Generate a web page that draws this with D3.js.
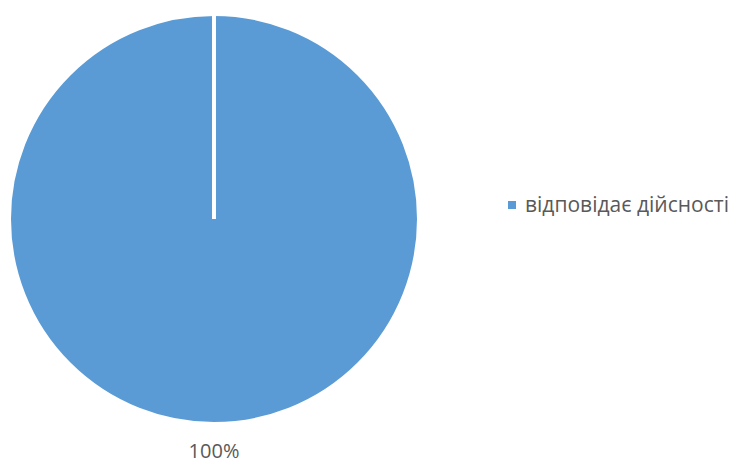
<!DOCTYPE html>
<html>
<head>
<meta charset="utf-8">
<script src="https://cdn.jsdelivr.net/npm/d3@7"></script>
<style>
  body { margin: 0; background: #fff; }
  svg { display: block; }
  text { font-family: "Open Sans", sans-serif; fill: #595959; }
</style>
</head>
<body>
<svg id="chart" width="734" height="464"></svg>
<script>
let categories = ["відповідає дійсності"];
let values = [100];
let valueLabels = ["100%"];
let colors = ["#5b9bd5"];

let margin = [];
margin.width = 734;
margin.height = 464;
margin.cx = 214;
margin.cy = 219;
margin.radius = 205;

let svg = d3.select("#chart");
let g = svg.append("g")
  .attr("transform", "translate(" + margin.cx + "," + margin.cy + ")");

let pie = d3.pie().sort(null).value((d) => { return d; });
let arcs = pie(values);
let arc = d3.arc().innerRadius(0).outerRadius(margin.radius);

g.selectAll("path")
  .data(arcs)
  .enter()
  .append("path")
    .attr("d", arc)
    .attr("fill", (d, i) => { return colors[i]; })
    .attr("stroke", "#fff")
    .attr("stroke-width", 4);

// slice border on the radial edge (full circle arc has none)
g.selectAll("line.edge")
  .data(arcs)
  .enter()
  .append("line")
    .attr("class", "edge")
    .attr("x1", 0)
    .attr("y1", 0)
    .attr("x2", (d) => { return margin.radius * Math.sin(d.startAngle); })
    .attr("y2", (d) => { return -margin.radius * Math.cos(d.startAngle); })
    .attr("stroke", "#fff")
    .attr("stroke-width", 4);

// data label below the pie
g.selectAll("text.lbl")
  .data(arcs)
  .enter()
  .append("text")
    .attr("class", "lbl")
    .attr("x", 0)
    .attr("y", margin.radius + 34)
    .style("text-anchor", "middle")
    .style("font-size", "20px")
    .text((d, i) => { return valueLabels[i]; });

// legend
let legend = svg.selectAll("g.legend")
  .data(categories)
  .enter()
  .append("g")
    .attr("class", "legend")
    .attr("transform", (d, i) => { return "translate(508," + (201 + i * 26) + ")"; });

legend.append("rect")
  .attr("width", 8)
  .attr("height", 8)
  .attr("fill", (d, i) => { return colors[i]; });

legend.append("text")
  .attr("x", 17)
  .attr("y", 11)
  .style("font-size", "21px")
  .text((d) => { return d; });
</script>
</body>
</html>
